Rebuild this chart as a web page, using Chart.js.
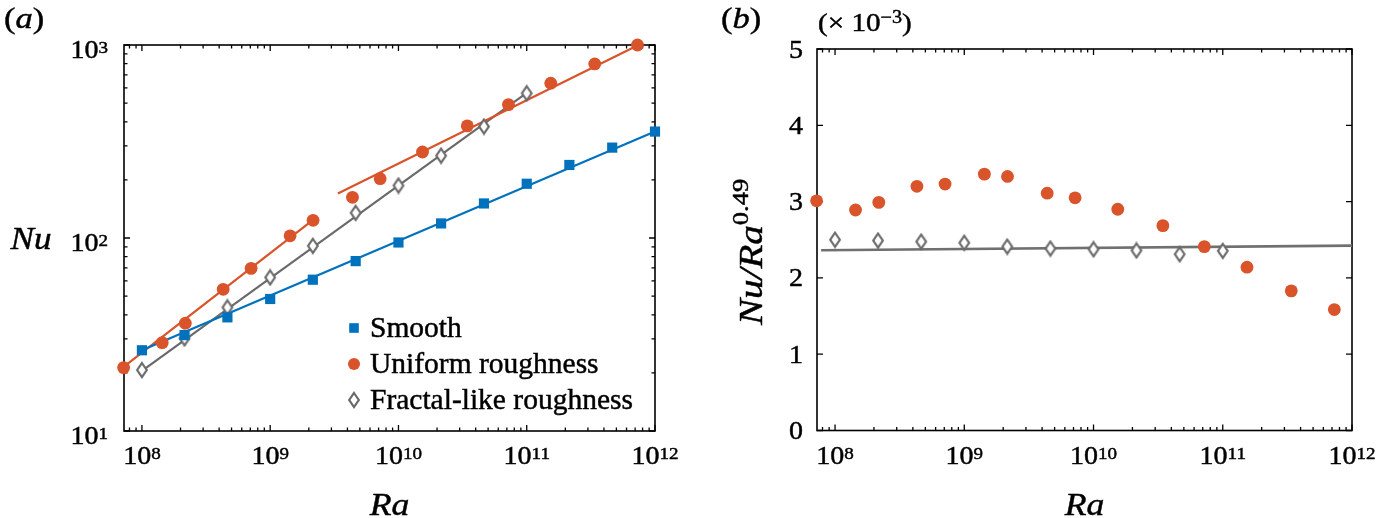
<!DOCTYPE html>
<html>
<head>
  <meta charset="UTF-8">
  <title>Nu vs Ra</title>
  <script src="https://cdn.jsdelivr.net/npm/chart.js"></script>
  <style>
    body { margin: 0; background: #fff; }
    .panel { position: absolute; top: 0; width: 690px; height: 518px; }
  </style>
</head>
<body>
  <div class="panel" style="left:0"><canvas id="chartA" width="690" height="518"></canvas></div>
  <div class="panel" style="left:690px"><canvas id="chartB" width="690" height="518"></canvas></div>

  <script>
    // panel (a): Nu against Ra
    const smoothRa = [1e8, 2.15e8, 4.64e8, 1e9, 2.15e9, 4.64e9, 1e10, 2.15e10, 4.64e10, 1e11, 2.15e11, 4.64e11, 1e12];
    const smoothNu = [26.2, 31.4, 38.8, 48.3, 60.8, 75.9, 94.8, 119, 151, 191, 239, 294, 356];
    const uniformRa = [7.2e7, 1.44e8, 2.18e8, 4.3e8, 7.1e8, 1.43e9, 2.16e9, 4.38e9, 7.2e9, 1.54e10, 3.44e10, 7.2e10, 1.54e11, 3.39e11, 7.3e11];
    const uniformNu = [21.3, 28.7, 36.2, 54.2, 69.6, 102.6, 123.5, 162.5, 203, 279, 381, 491, 634, 798, 1000];
    const fractalRa = [1e8, 2.15e8, 4.64e8, 1e9, 2.15e9, 4.64e9, 1e10, 2.15e10, 4.64e10, 1e11];
    const fractalNu = [20.7, 30.2, 43.7, 62.5, 91.1, 135, 187, 267, 378, 562];

    // panel (b): Nu/Ra^0.49, in units of 1e-3
    const uniformComp = [3.01, 2.89, 2.99, 3.20, 3.23, 3.36, 3.33, 3.11, 3.05, 2.90, 2.685, 2.41, 2.14, 1.83, 1.585];
    const fractalComp = [2.50, 2.49, 2.476, 2.46, 2.41, 2.385, 2.375, 2.36, 2.31, 2.355];

    // fitted lines (end points)
    const smoothFitRa = [1e8, 1e12],      smoothFitNu = [26.2, 356];
    const uniformFit1Ra = [7.2e7, 2.16e9], uniformFit1Nu = [21.5, 124];
    const uniformFit2Ra = [3.37e9, 7.3e11], uniformFit2Nu = [170, 995];
    const fractalFitRa = [1e8, 1e11],     fractalFitNu = [20.5, 565];
    const compFitRa = [7.8e7, 1e12],      compFitVal = [2.363, 2.423];

    // ticks
    const raTicks = [1e8, 1e9, 1e10, 1e11, 1e12];
    const raTickExp = ['8', '9', '10', '11', '12'];
    const nuTicks = [10, 100, 1000];
    const nuTickExp = ['1', '2', '3'];
    const compTicks = [0, 1, 2, 3, 4, 5];
    const legendLabels = ['Smooth', 'Uniform roughness', 'Fractal-like roughness'];

    const BLUE = '#0072BD', RED = '#D9532B', GREY = '#6A6A6A';
    const SERIF = '"Liberation Serif", "Times New Roman", serif';
    const TICK = '25px ' + SERIF, SUP = '17px ' + SERIF;
    const SX = 1.12;

    const pts = (xs, ys) => xs.map((x, i) => ({ x, y: ys[i] }));

    // tall open diamond marker
    function makeDiamond() {
      const c = document.createElement('canvas');
      c.width = 14; c.height = 18;
      const g = c.getContext('2d');
      g.beginPath();
      g.moveTo(7, 2.0); g.lineTo(11.8, 9); g.lineTo(7, 16); g.lineTo(2.2, 9); g.closePath();
      g.fillStyle = '#fff'; g.fill();
      g.strokeStyle = GREY; g.lineWidth = 2.2; g.stroke();
      return c;
    }
    const diamond = makeDiamond();

    // draw a run of text pieces [text, font, dy], stretched horizontally by sx
    function runs(ctx, parts, x, y, align, sx, rot) {
      let w = 0;
      parts.forEach(p => { ctx.font = p[1]; w += ctx.measureText(p[0]).width; });
      const start = align === 'center' ? -w * sx / 2 : align === 'right' ? -w * sx : 0;
      ctx.save();
      ctx.translate(x, y);
      if (rot) ctx.rotate(rot);
      ctx.translate(start, 0);
      ctx.scale(sx, 1);
      ctx.fillStyle = '#000';
      ctx.strokeStyle = '#000';
      ctx.lineWidth = 0.45;
      ctx.textAlign = 'left';
      ctx.textBaseline = 'alphabetic';
      let cx = 0;
      parts.forEach(p => {
        ctx.font = p[1];
        ctx.fillText(p[0], cx, p[2] || 0);
        ctx.strokeText(p[0], cx, p[2] || 0);
        cx += ctx.measureText(p[0]).width;
      });
      ctx.restore();
    }
    const pow = (e) => [['10', TICK], [e, SUP, -5]];

    function logTicks(min, max) {
      const out = [];
      for (let e = Math.floor(Math.log10(min)); e <= Math.ceil(Math.log10(max)); e++) {
        for (let k = 1; k <= 9; k++) {
          const v = k * Math.pow(10, e);
          if (v >= min * 0.999 && v <= max * 1.001) out.push([v, k === 1]);
        }
      }
      return out;
    }

    // frame with inward ticks on all four sides
    const frameTicks = {
      id: 'frameTicks',
      beforeDatasetsDraw(chart) {
        const { ctx, chartArea: a, scales: { x, y } } = chart;
        ctx.save();
        ctx.strokeStyle = '#000';
        ctx.lineWidth = 1.3;
        ctx.beginPath();
        logTicks(x.min, x.max).forEach(([v, major]) => {
          const px = x.getPixelForValue(v), len = major ? 6 : 3.5;
          ctx.moveTo(px, a.bottom); ctx.lineTo(px, a.bottom - len);
          ctx.moveTo(px, a.top); ctx.lineTo(px, a.top + len);
        });
        const yt = y.type === 'logarithmic' ? logTicks(y.min, y.max) : compTicks.map(v => [v, true]);
        yt.forEach(([v, major]) => {
          const py = y.getPixelForValue(v), len = major ? 6 : 3.5;
          ctx.moveTo(a.left, py); ctx.lineTo(a.left + len, py);
          ctx.moveTo(a.right, py); ctx.lineTo(a.right - len, py);
        });
        ctx.stroke();
        ctx.lineWidth = 1.6;
        ctx.strokeRect(a.left, a.top, a.right - a.left, a.bottom - a.top);
        ctx.restore();
      }
    };

    function drawRaAxis(chart) {
      const { ctx, chartArea: a, scales: { x } } = chart;
      raTicks.forEach((v, i) => runs(ctx, pow(raTickExp[i]), x.getPixelForValue(v), 464, 'center', SX));
      runs(ctx, [['Ra', 'italic 31px ' + SERIF]], (a.left + a.right) / 2, 515, 'center', 1.15);
    }

    function baseOptions(padding, yScale) {
      return {
        responsive: false,
        animation: false,
        events: [],
        layout: { padding },
        plugins: { legend: { display: false }, tooltip: { enabled: false } },
        scales: {
          x: {
            type: 'logarithmic', min: 7.25e7, max: 1e12,
            grid: { display: false, drawTicks: false }, border: { display: false },
            ticks: { display: false }
          },
          y: Object.assign({
            grid: { display: false, drawTicks: false }, border: { display: false },
            ticks: { display: false }
          }, yScale)
        }
      };
    }

    const markerSet = (label, data, style, radius, color) => ({
      label, data, showLine: false, clip: false, order: 0,
      pointStyle: style, pointRadius: radius,
      backgroundColor: color, borderColor: color, borderWidth: 0
    });
    const fitLine = (data, color, width) => ({
      data, showLine: true, clip: false, order: 1,
      pointRadius: 0, borderColor: color, borderWidth: width
    });

    new Chart(document.getElementById('chartA'), {
      type: 'scatter',
      data: {
        datasets: [
          markerSet(legendLabels[0], pts(smoothRa, smoothNu), 'rect', 7.2, BLUE),
          markerSet(legendLabels[1], pts(uniformRa, uniformNu), 'circle', 6.4, RED),
          markerSet(legendLabels[2], pts(fractalRa, fractalNu), diamond, 6, GREY),
          fitLine(pts(smoothFitRa, smoothFitNu), BLUE, 2.2),
          fitLine(pts(uniformFit1Ra, uniformFit1Nu), RED, 2.2),
          fitLine(pts(uniformFit2Ra, uniformFit2Nu), RED, 2.2),
          fitLine(pts(fractalFitRa, fractalFitNu), GREY, 2.2)
        ]
      },
      options: baseOptions({ left: 124, right: 35, top: 45, bottom: 87 },
        { type: 'logarithmic', min: 10, max: 1000 }),
      plugins: [frameTicks, {
        id: 'textA',
        afterDraw(chart) {
          const { ctx, scales: { y } } = chart;
          runs(ctx, [['(', '30px ' + SERIF], ['a', 'italic 30px ' + SERIF], [')', '30px ' + SERIF]], 4, 28, 'left', 1.15);
          nuTicks.forEach((v, i) => runs(ctx, pow(nuTickExp[i]), 108, y.getPixelForValue(v) + 13, 'right', SX));
          runs(ctx, [['Nu', 'italic 32px ' + SERIF]], 31, 249, 'center', 1.1);
          drawRaAxis(chart);

          // legend inside the plot
          const lx = 354, rows = [328, 364, 400];
          ctx.save();
          ctx.fillStyle = BLUE;
          ctx.fillRect(lx - 4.8, rows[0] - 4.8, 9.6, 9.6);
          ctx.fillStyle = RED;
          ctx.beginPath(); ctx.arc(lx, rows[1], 6, 0, Math.PI * 2); ctx.fill();
          ctx.drawImage(diamond, lx - diamond.width / 2, rows[2] - diamond.height / 2);
          ctx.fillStyle = '#000';
          ctx.strokeStyle = '#000';
          ctx.lineWidth = 0.45;
          ctx.font = '29.5px ' + SERIF;
          ctx.textBaseline = 'middle';
          legendLabels.forEach((t, i) => {
            ctx.fillText(t, 370, rows[i] + 1);
            ctx.strokeText(t, 370, rows[i] + 1);
          });
          ctx.restore();
        }
      }]
    });

    new Chart(document.getElementById('chartB'), {
      type: 'scatter',
      data: {
        datasets: [
          markerSet(legendLabels[1], pts(uniformRa, uniformComp), 'circle', 6.4, RED),
          markerSet(legendLabels[2], pts(fractalRa, fractalComp), diamond, 6, GREY),
          fitLine(pts(compFitRa, compFitVal), '#707070', 2.6)
        ]
      },
      options: baseOptions({ left: 127, right: 28, top: 49, bottom: 87.5 },
        { type: 'linear', min: 0, max: 5 }),
      plugins: [frameTicks, {
        id: 'textB',
        afterDraw(chart) {
          const { ctx, scales: { y } } = chart;
          runs(ctx, [['(', '30px ' + SERIF], ['b', 'italic 30px ' + SERIF], [')', '30px ' + SERIF]], 31, 28, 'left', 1.15);
          runs(ctx, [['(\u00d7 10', '26px ' + SERIF], ['\u22123', '18px ' + SERIF, -8], [')', '26px ' + SERIF]], 128, 31, 'left', 1.12);
          compTicks.forEach(v => runs(ctx, [[String(v), TICK]], 113, y.getPixelForValue(v) + 8.5, 'right', SX));
          runs(ctx, [['Nu/Ra', 'italic 34px ' + SERIF], ['0.49', '23px ' + SERIF, -14]], 72, 252, 'center', 1.15, -Math.PI / 2);
          drawRaAxis(chart);
        }
      }]
    });
  </script>
</body>
</html>
